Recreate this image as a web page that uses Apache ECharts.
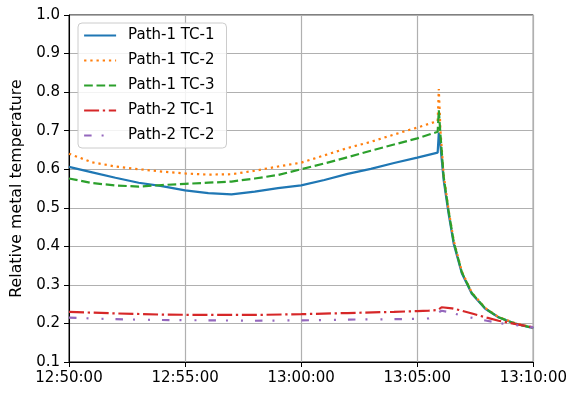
<!DOCTYPE html>
<html>
<head>
<meta charset="utf-8">
<script src="https://cdn.jsdelivr.net/npm/echarts@6/dist/echarts.min.js"></script>
<style>html,body{margin:0;padding:0;background:#fff;}#c{width:570px;height:393px;}</style>
</head>
<body>
<div id="c"></div>
<script>
// minutes after 12:50:00
const timesP1 = [0,1,2,3,4,5,6,7,8,9,10,11,12,13,14,15,15.88,15.93,16.0,16.14,16.35,16.57,16.92,17.35,17.93,18.5,19.2,20];
const p1tc1 = [0.606,0.592,0.578,0.565,0.556,0.545,0.538,0.535,0.542,0.551,0.558,0.572,0.588,0.601,0.616,0.630,0.643,0.695,0.660,0.571,0.485,0.407,0.330,0.277,0.238,0.216,0.200,0.188];
const p1tc2 = [0.640,0.618,0.607,0.600,0.594,0.589,0.586,0.587,0.596,0.607,0.617,0.636,0.655,0.671,0.690,0.708,0.725,0.808,0.700,0.585,0.495,0.415,0.335,0.280,0.240,0.217,0.201,0.189];
const p1tc3 = [0.576,0.564,0.558,0.555,0.559,0.562,0.565,0.568,0.576,0.585,0.600,0.615,0.631,0.648,0.664,0.680,0.697,0.753,0.690,0.580,0.492,0.412,0.333,0.279,0.239,0.216,0.200,0.188];
const timesP2 = [0,2,4,6,8,10,12,14,15,15.5,15.9,16.05,16.5,16.8,17.4,18,18.5,19.2,20];
const p2tc1 = [0.230,0.226,0.223,0.222,0.222,0.224,0.227,0.230,0.232,0.233,0.235,0.242,0.239,0.235,0.225,0.215,0.207,0.199,0.190];
const p2tc2 = [0.215,0.211,0.209,0.208,0.207,0.208,0.210,0.211,0.212,0.213,0.228,0.233,0.228,0.222,0.214,0.207,0.201,0.196,0.190];
const xTickLabels = ['12:50:00','12:55:00','13:00:00','13:05:00','13:10:00'];
const seriesNames = ['Path-1 TC-1','Path-1 TC-2','Path-1 TC-3','Path-2 TC-1','Path-2 TC-2'];

const zip = (t, v) => t.map((x, i) => [x, v[i]]);
const font = 'DejaVu Sans';
const lw = 2.2;
const mk = (name, t, v, color, type) => ({
  name, type: 'line', data: zip(t, v), symbol: 'none', showSymbol: false,
  lineStyle: { color, width: lw, type, cap: 'butt' }, itemStyle: { color },
  animation: false
});

const chart = echarts.init(document.getElementById('c'), null, { renderer: 'canvas' });
chart.setOption({
  animation: false,
  backgroundColor: '#fff',
  grid: { left: 69, right: 35, top: 15, bottom: 31, show: true, borderColor: '#000', borderWidth: 1, backgroundColor: 'transparent' },
  xAxis: {
    type: 'value', min: 0, max: 20, interval: 5,
    axisLine: { show: true, onZero: false, lineStyle: { color: '#000', width: 1 } },
    axisTick: { show: true, length: 5, lineStyle: { color: '#000', width: 1 } },
    axisLabel: { color: '#000', fontFamily: font, fontSize: 15, margin: 9, formatter: v => xTickLabels[Math.round(v / 5)] },
    splitLine: { show: true, lineStyle: { color: '#b0b0b0', width: 1.2 } }
  },
  yAxis: {
    type: 'value', min: 0.1, max: 1.0, interval: 0.1,
    name: 'Relative metal temperature', nameLocation: 'middle', nameGap: 41,
    nameTextStyle: { color: '#000', fontFamily: font, fontSize: 15.8 },
    axisLine: { show: true, onZero: false, lineStyle: { color: '#000', width: 1 } },
    axisTick: { show: true, length: 5, lineStyle: { color: '#000', width: 1 } },
    axisLabel: { color: '#000', fontFamily: font, fontSize: 15, margin: 9, formatter: v => v.toFixed(1) },
    splitLine: { show: true, lineStyle: { color: '#b0b0b0', width: 1.2 } }
  },
  legend: {
    orient: 'vertical', left: 78, top: 23,
    itemWidth: 32, itemHeight: 14, itemGap: 10,
    itemStyle: { color: 'rgba(0,0,0,0)', borderWidth: 0, opacity: 0 },
    lineStyle: { width: lw },
    padding: [5, 12, 5, 5],
    backgroundColor: 'rgba(255,255,255,0.85)', borderColor: '#cccccc', borderWidth: 1, borderRadius: 4,
    textStyle: { color: '#000', fontFamily: font, fontSize: 15, padding: [0, 0, 0, 7] },
    data: seriesNames
  },
  series: [
    mk(seriesNames[0], timesP1, p1tc1, '#1f77b4', 'solid'),
    mk(seriesNames[1], timesP1, p1tc2, '#ff7f0e', [2.3, 3.9]),
    mk(seriesNames[2], timesP1, p1tc3, '#2ca02c', [8.7, 3.7]),
    mk(seriesNames[3], timesP2, p2tc1, '#d62728', [15, 3.7, 2.3, 3.7]),
    mk(seriesNames[4], timesP2, p2tc2, '#9467bd', [7.5, 10, 2, 13, 2, 12])
  ]
});
</script>
</body>
</html>
